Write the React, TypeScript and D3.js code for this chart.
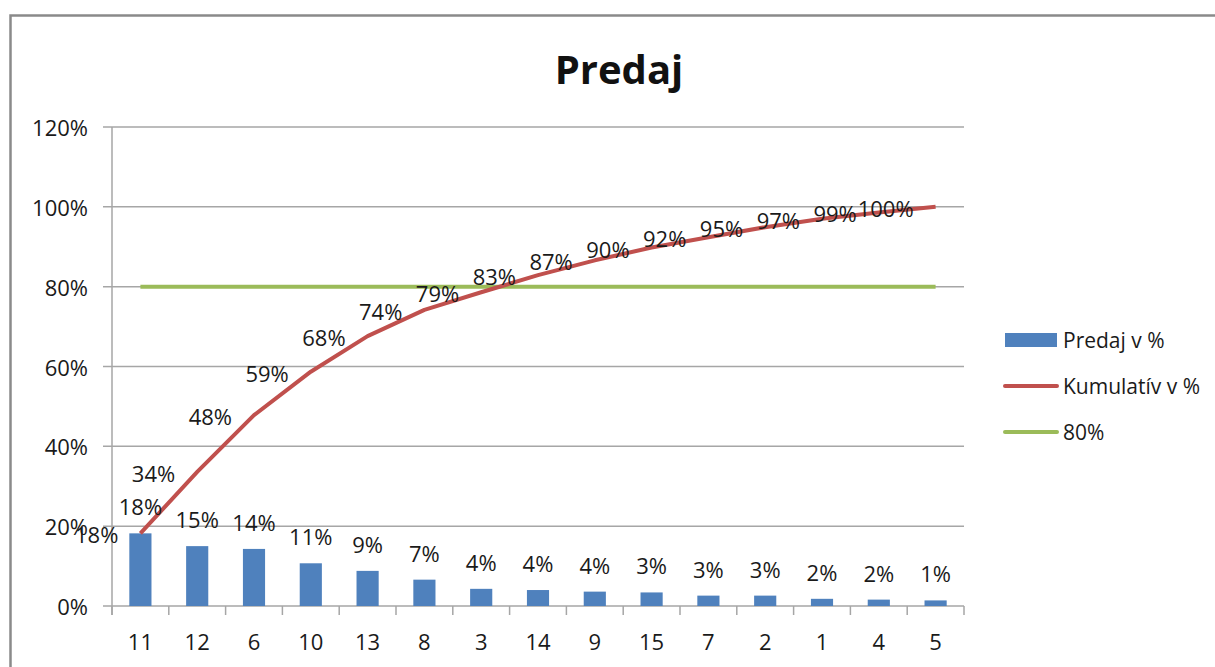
import React from "react";
import * as d3 from "d3";

const categories = ["11", "12", "6", "10", "13", "8", "3", "14", "9", "15", "7", "2", "1", "4", "5"];
const salesPct = [18.2, 15.0, 14.3, 10.7, 8.8, 6.6, 4.3, 4.0, 3.6, 3.4, 2.6, 2.6, 1.8, 1.6, 1.4];
const cumulativePct = [18.2, 33.6, 47.8, 58.7, 67.6, 74.2, 78.6, 82.9, 86.6, 89.8, 92.4, 94.9, 97.0, 98.6, 100];
const thresholdPct = 80;
const yTicks = [0, 20, 40, 60, 80, 100, 120];
const legendLabels = ["Predaj v %", "Kumulatív v %", "80%"];
const title = "Predaj";

const W = 1215;
const H = 667;
const FONT = "'Open Sans', 'Noto Sans', sans-serif";
const BLUE = "#4F81BD";
const RED = "#C0504D";
const GREEN = "#9BBB59";
const GRID = "#a6a6a6";
const TEXT = "#1a1a1a";

export default function App() {
  const x = d3.scaleBand<string>().domain(categories).range([112, 964]);
  const y = d3.scaleLinear().domain([0, 120]).range([606, 127]);
  const bw = x.bandwidth();
  const barW = bw * 0.39;
  const cx = (c: string) => (x(c) as number) + bw / 2;

  const line = d3
    .line<number>()
    .x((_, i) => cx(categories[i]))
    .y((d) => y(d));

  const boundaries = categories.map((c) => x(c) as number).concat([964]);

  return (
    <div style={{ position: "fixed", left: 0, top: 0, width: W, height: H, background: "#fff" }}>
      <svg width={W} height={H} style={{ display: "block" }} fontFamily={FONT}>
        <rect x={0} y={0} width={W} height={H} fill="#fff" />
        {/* outer chart frame */}
        <rect x={10.5} y={15.5} width={W + 20} height={H + 20} fill="none" stroke="#8a8a8a" strokeWidth={2.5} />

        <text x={619} y={68} textAnchor="middle" dominantBaseline="central" fontSize={40} fontWeight="bold" fill="#111">
          {title}
        </text>

        {/* gridlines + y ticks */}
        {yTicks.map((t) => (
          <g key={t}>
            <line x1={103} x2={964} y1={y(t)} y2={y(t)} stroke={GRID} strokeWidth={1.5} />
            <text x={88} y={y(t)} textAnchor="end" dominantBaseline="central" fontSize={22} fill={TEXT}>
              {t + "%"}
            </text>
          </g>
        ))}
        {/* y axis line */}
        <line x1={112} x2={112} y1={y(120)} y2={615} stroke={GRID} strokeWidth={1.5} />
        {/* x ticks */}
        {boundaries.map((b, i) => (
          <line key={i} x1={b} x2={b} y1={606} y2={615} stroke={GRID} strokeWidth={1.5} />
        ))}
        {categories.map((c) => (
          <text key={c} x={cx(c)} y={641} textAnchor="middle" dominantBaseline="central" fontSize={22} fill={TEXT}>
            {c}
          </text>
        ))}

        {/* bars */}
        {salesPct.map((v, i) => (
          <rect
            key={i}
            x={cx(categories[i]) - barW / 2}
            y={y(v)}
            width={barW}
            height={y(0) - y(v)}
            fill={BLUE}
          />
        ))}

        {/* 80% line */}
        <line
          x1={cx(categories[0])}
          x2={cx(categories[categories.length - 1])}
          y1={y(thresholdPct)}
          y2={y(thresholdPct)}
          stroke={GREEN}
          strokeWidth={4}
        />

        {/* cumulative line */}
        <path d={line(cumulativePct) || ""} fill="none" stroke={RED} strokeWidth={4} strokeLinejoin="round" />

        {/* bar labels */}
        {salesPct.map((v, i) => (
          <text
            key={i}
            x={cx(categories[i])}
            y={y(v) - 27}
            textAnchor="middle"
            dominantBaseline="central"
            fontSize={22}
            fill={TEXT}
          >
            {Math.round(v) + "%"}
          </text>
        ))}

        {/* cumulative labels */}
        {cumulativePct.map((v, i) => (
          <text
            key={i}
            x={cx(categories[i]) - 22}
            y={y(v) + 1}
            textAnchor="end"
            dominantBaseline="central"
            fontSize={22}
            fill={TEXT}
          >
            {Math.round(v) + "%"}
          </text>
        ))}

        {/* legend */}
        <g>
          <rect x={1005} y={333} width={52} height={14} fill={BLUE} />
          <text x={1063} y={340} dominantBaseline="central" fontSize={21} fill={TEXT}>
            {legendLabels[0]}
          </text>
          <line x1={1005} x2={1057} y1={386} y2={386} stroke={RED} strokeWidth={4} strokeLinecap="round" />
          <text x={1063} y={386} dominantBaseline="central" fontSize={21} fill={TEXT}>
            {legendLabels[1]}
          </text>
          <line x1={1005} x2={1057} y1={432} y2={432} stroke={GREEN} strokeWidth={4} strokeLinecap="round" />
          <text x={1063} y={432} dominantBaseline="central" fontSize={21} fill={TEXT}>
            {legendLabels[2]}
          </text>
        </g>
      </svg>
    </div>
  );
}
